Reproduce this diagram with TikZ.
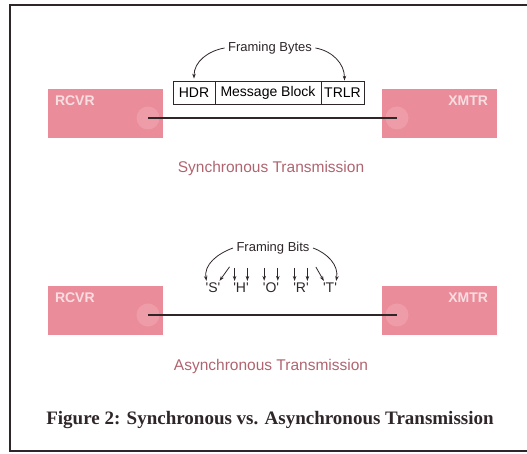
\documentclass[tikz,border=0pt]{standalone}
\usepackage{fontspec}
\setmainfont{Liberation Serif}
\setsansfont{Liberation Sans}
\usetikzlibrary{positioning,arrows.meta}

\definecolor{unitpink}{HTML}{EA8C9A}
\definecolor{portpink}{HTML}{EE9DA8}
\definecolor{namepink}{HTML}{F8DDE1}
\definecolor{titlerose}{HTML}{B0646F}
\definecolor{inkdark}{HTML}{2E2628}

\tikzset{
  unit/.style={fill=unitpink, minimum width=115pt, minimum height=49pt, inner sep=0pt},
  unitname/.style={text=namepink, font=\sffamily\bfseries\fontsize{14}{14}\selectfont, inner sep=0pt},
  port/.style={circle, fill=portpink, minimum size=23pt, inner sep=0pt},
  wire/.style={draw=inkdark, line width=1.3pt},
  seg/.style={draw=inkdark, line width=0.8pt, minimum height=23pt, inner sep=1pt,
    font=\sffamily\fontsize{14}{14}\selectfont},
  framelabel/.style={font=\sffamily\fontsize{13}{13}\selectfont, text=inkdark},
  bitchar/.style={font=\sffamily\fontsize{14}{14}\selectfont, inner sep=0pt, text=inkdark},
  modelabel/.style={font=\sffamily\fontsize{15.5}{15.5}\selectfont, text=titlerose},
  pointer/.style={draw=inkdark, line width=0.8pt, -{Stealth[length=5pt,width=3.5pt]}}
}

\begin{document}
\begin{tikzpicture}[x=1pt,y=-1pt]
  \useasboundingbox (0,0) rectangle (527,454);

  % outer frame (left, top, bottom)
  \draw[inkdark, line width=1.6pt] (527,5) -- (10,5) -- (10,451) -- (527,451);

  % synchronous link
  \node[unit] (rcvrA) at (105.5,113.5) {};
  \node[unit] (xmtrA) at (439.5,113.5) {};
  \node[unitname, anchor=north west] (rcvrAname) at ([shift={(7,7)}]rcvrA.north west) {RCVR};
  \node[unitname, anchor=north east] (xmtrAname) at ([shift={(-9,7)}]xmtrA.north east) {XMTR};
  \node[port] (rcvrAport) at (148,118) {};
  \node[port] (xmtrAport) at (397,118) {};
  \draw[wire] (rcvrAport.center) -- (xmtrAport.center);

  \node[seg, minimum width=42pt] (hdr) at (194,92.5) {HDR};
  \node[seg, minimum width=106pt, right=-0.8pt of hdr] (msg) {Message Block};
  \node[seg, minimum width=43pt, right=-0.8pt of msg] (trlr) {TRLR};

  \node[framelabel] (fbytes) at (270,48) {Framing Bytes};
  \draw[pointer] (fbytes.west) to[out=190,in=90] ([yshift=2pt]hdr.north);
  \draw[pointer] (fbytes.east) to[out=-10,in=90] ([shift={(2,0)}]trlr.north);

  \node[modelabel] (syncname) at (271,168) {Synchronous Transmission};

  % asynchronous link
  \node[unit] (rcvrB) at (105.5,310.5) {};
  \node[unit] (xmtrB) at (439.5,310.5) {};
  \node[unitname, anchor=north west] (rcvrBname) at ([shift={(7,7)}]rcvrB.north west) {RCVR};
  \node[unitname, anchor=north east] (xmtrBname) at ([shift={(-9,7)}]xmtrB.north east) {XMTR};
  \node[port] (rcvrBport) at (148,315) {};
  \node[port] (xmtrBport) at (397,315) {};
  \draw[wire] (rcvrBport.center) -- (xmtrBport.center);

  \node[framelabel] (fbits) at (273,248) {Framing Bits};
  \node[bitchar] (chS) at (213,288) {\textquotesingle S\textquotesingle};
  \node[bitchar] (chH) at (241,288) {\textquotesingle H\textquotesingle};
  \node[bitchar] (chO) at (271,288) {\textquotesingle O\textquotesingle};
  \node[bitchar] (chR) at (301,288) {\textquotesingle R\textquotesingle};
  \node[bitchar] (chT) at (330,288) {\textquotesingle T\textquotesingle};

  \draw[pointer] (fbits.west) to[out=200,in=100] ([shift={(1,-2)}]chS.north west);
  \draw[pointer] ([shift={(9,-16)}]chS.north east) -- ([shift={(-1,-2)}]chS.north east);
  \foreach \ch in {chH,chO,chR} {
    \draw[pointer] ([shift={(1.5,-15)}]\ch.north west) -- ([shift={(1.5,-2)}]\ch.north west);
    \draw[pointer] ([shift={(-1.5,-15)}]\ch.north east) -- ([shift={(-1.5,-2)}]\ch.north east);
  }
  \draw[pointer] ([shift={(-7,-16)}]chT.north west) -- ([shift={(1,-2)}]chT.north west);
  \draw[pointer] (fbits.east) to[out=-20,in=80] ([shift={(-1,-2)}]chT.north east);

  \node[modelabel] (asyncname) at (271,366) {Asynchronous Transmission};

  % caption
  \node[font=\bfseries\fontsize{19}{19}\selectfont, text=inkdark] (caption) at (270,420)
    {Figure 2: Synchronous vs. Asynchronous Transmission};
\end{tikzpicture}
\end{document}
